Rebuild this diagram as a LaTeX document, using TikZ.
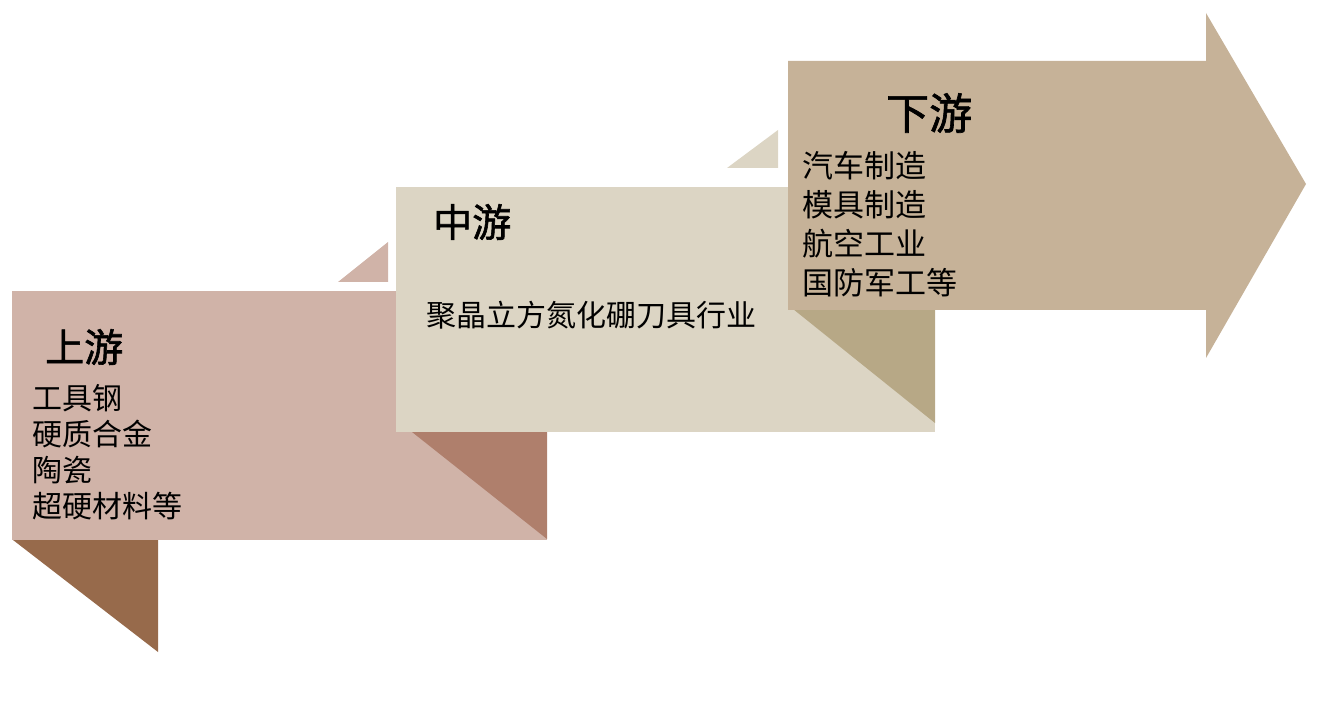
\documentclass[tikz,border=0pt]{standalone}
\usepackage{fontspec}
\newfontfamily\cjk{Noto Sans CJK SC}
\newfontfamily\cjkb{Noto Sans CJK SC}[FakeBold=1.5]
\definecolor{upc}{HTML}{D0B3A8}
\definecolor{upfold}{HTML}{976A4B}
\definecolor{updark}{HTML}{AF7F6C}
\definecolor{midc}{HTML}{DCD5C4}
\definecolor{midfold}{HTML}{B7A886}
\definecolor{downc}{HTML}{C6B298}
\tikzset{
  title/.style={anchor=west,inner sep=0pt,font=\cjkb\fontsize{39}{44}\selectfont,text=black},
  items/.style={anchor=north west,inner sep=0pt,align=left,text=black},
}
\begin{document}
\begin{tikzpicture}[x=1pt,y=-1pt]
\useasboundingbox (0,0) rectangle (1318,703);
% upstream
\fill[upfold] (13,540) -- (158,540) -- (158,652) -- cycle;
\fill[upc] (12,291) rectangle (547,540);
\fill[updark] (412,432) -- (547,432) -- (547,539) -- cycle;
\fill[upc] (338,282) -- (388,242) -- (388,282) -- cycle;
% midstream
\fill[midc] (396,187) rectangle (935,432);
\fill[midfold] (793,309) -- (935,309) -- (935,423) -- cycle;
\fill[midc] (727,168) -- (778,130) -- (778,168) -- cycle;
% downstream arrow
\fill[downc] (788,61) -- (1206,61) -- (1206,13) -- (1306,184) -- (1206,358) -- (1206,310) -- (788,310) -- cycle;
% texts
\node[title] (t1) at (45,347) {上游};
\node[items,font=\cjk\fontsize{30}{36}\selectfont] (l1) at (32,384) {工具钢\\硬质合金\\陶瓷\\超硬材料等};
\node[title] (t2) at (433,222) {中游};
\node[anchor=west,inner sep=0pt,font=\cjk\fontsize{30}{36}\selectfont] (l2) at (426,315) {聚晶立方氮化硼刀具行业};
\node[title,font=\cjkb\fontsize{43}{48}\selectfont] (t3) at (886,113) {下游};
\node[items,font=\cjk\fontsize{31}{39}\selectfont] (l3) at (802,151) {汽车制造\\模具制造\\航空工业\\国防军工等};
\end{tikzpicture}
\end{document}
